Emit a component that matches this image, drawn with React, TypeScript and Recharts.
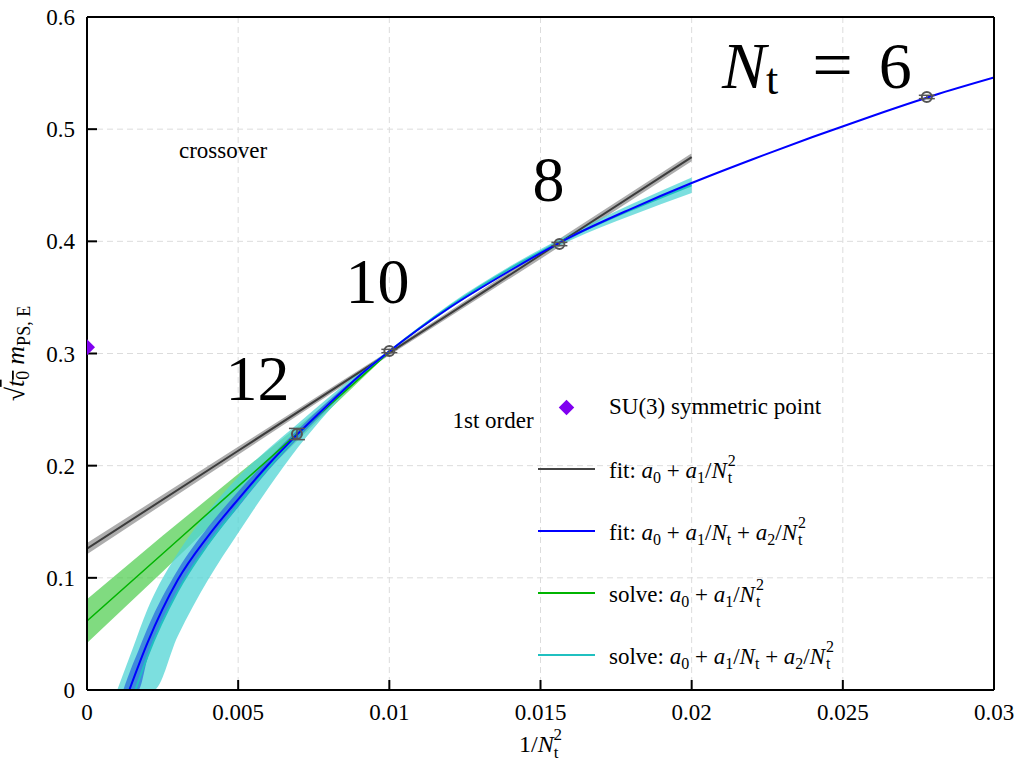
import React from "react";
import {
  ComposedChart,
  Line,
  Area,
  Scatter,
  XAxis,
  YAxis,
  CartesianGrid,
  ErrorBar,
} from "recharts";

const xTicks = [0, 0.005, 0.01, 0.015, 0.02, 0.025, 0.03];
const yTicks = [0, 0.1, 0.2, 0.3, 0.4, 0.5, 0.6];

// lattice data, x = 1/Nt^2 for Nt = 6, 8, 10, 12
const pointX = [0.027778, 0.015625, 0.01, 0.006944];
const pointY = [0.5287, 0.3976, 0.3022, 0.2282];
const pointErr = [0.0015, 0.0015, 0.0015, 0.005];

// SU(3) symmetric point
const su3X = [0];
const su3Y = [0.3055];

// fit: a0 + a1/Nt^2 (grey)
const linFitX = [0, 0.005, 0.01, 0.015, 0.02];
const linFitY = [0.126, 0.2133, 0.3005, 0.3878, 0.475];
const linFitLo = [0.121, 0.2098, 0.2985, 0.3843, 0.4715];
const linFitHi = [0.131, 0.2168, 0.3025, 0.3913, 0.4785];

// solve: a0 + a1/Nt^2 (green)
const linSolveX = [0, 0.0025, 0.005, 0.0075, 0.01];
const linSolveY = [0.0615, 0.1215, 0.1815, 0.2415, 0.3015];
const linSolveLo = [0.042, 0.1055, 0.1705, 0.2365, 0.301];
const linSolveHi = [0.081, 0.1375, 0.1925, 0.2465, 0.302];

// fit: a0 + a1/Nt + a2/Nt^2 (blue)
const quadFitX = [0.0014, 0.002, 0.003, 0.004, 0.005, 0.006, 0.007, 0.008, 0.009, 0.01, 0.012, 0.014, 0.016, 0.018, 0.02, 0.022, 0.024, 0.026, 0.028, 0.03];
const quadFitY = [0, 0.042, 0.098, 0.137, 0.17, 0.201, 0.229, 0.255, 0.28, 0.302, 0.341, 0.374, 0.404, 0.429, 0.452, 0.473, 0.493, 0.512, 0.53, 0.546];
const quadBandX = [0.0012, 0.0015, 0.0017, 0.002, 0.003, 0.004, 0.005, 0.006, 0.007, 0.008, 0.009, 0.01];
const quadBandLo = [0, 0, 0, 0.028, 0.088, 0.129, 0.163, 0.196, 0.225, 0.252, 0.279, 0.302];
const quadBandHi = [0, 0.022, 0.035, 0.055, 0.107, 0.145, 0.177, 0.206, 0.233, 0.258, 0.281, 0.302];

// solve: a0 + a1/Nt + a2/Nt^2 (cyan)
const quadSolveX = [0.0016, 0.002, 0.003, 0.004, 0.005, 0.006, 0.007, 0.008, 0.009, 0.01, 0.012, 0.014, 0.016, 0.018, 0.02];
const quadSolveY = [0, 0.03, 0.088, 0.13, 0.165, 0.198, 0.228, 0.255, 0.28, 0.302, 0.342, 0.376, 0.404, 0.428, 0.45];
const quadSolveBandX = [0.001, 0.0015, 0.002, 0.0022, 0.003, 0.004, 0.005, 0.006, 0.007, 0.008, 0.009, 0.01, 0.012, 0.014, 0.016, 0.018, 0.02];
const quadSolveLo = [0, 0, 0, 0, 0.048, 0.098, 0.14, 0.18, 0.217, 0.249, 0.278, 0.301, 0.34, 0.373, 0.401, 0.423, 0.443];
const quadSolveHi = [0, 0.036, 0.072, 0.084, 0.122, 0.159, 0.19, 0.215, 0.238, 0.261, 0.283, 0.303, 0.344, 0.378, 0.407, 0.433, 0.457];

// text annotations
const annText = ["crossover", "1st order", "12", "10", "8", "Nt=6"];
const annX = [0.0045, 0.01343, 0.00564, 0.00961, 0.015265, 0.021];
const annY = [0.4814, 0.2407, 0.2773, 0.3642, 0.4547, 0.5572];

const FONT = "Liberation Serif, serif";

const zip = (xs: number[], ys: number[]) => xs.map((x, i) => ({ x, y: ys[i] }));
const zipBand = (xs: number[], lo: number[], hi: number[]) =>
  xs.map((x, i) => ({ x, band: [lo[i], hi[i]] }));

const points = pointX.map((x, i) => ({ x, y: pointY[i], err: pointErr[i] }));
const su3 = zip(su3X, su3Y);
const annotations = annText.map((text, i) => ({ x: annX[i], y: annY[i], text }));

function OpenCircle(props: any) {
  const { cx, cy } = props;
  if (cx == null || cy == null) return null;
  return <circle cx={cx} cy={cy} r={5} fill="none" stroke="#555" strokeWidth={2} />;
}

function Diamond(props: any) {
  const { cx, cy } = props;
  if (cx == null || cy == null) return null;
  const s = 8;
  return (
    <polygon
      points={`${cx},${cy - s} ${cx + s},${cy} ${cx},${cy + s} ${cx - s},${cy}`}
      fill="#8000f0"
    />
  );
}

function Annotation(props: any) {
  const { cx, cy, payload } = props;
  if (cx == null || cy == null) return null;
  if (payload.text === "Nt=6") {
    return (
      <text x={cx} y={cy} dominantBaseline="central" fontFamily={FONT} fontSize={66} fill="#000">
        <tspan fontStyle="italic">N</tspan>
        <tspan fontSize={44} dy={14}>t</tspan>
        <tspan dx={34} dy={-14} fontSize={72}>=</tspan>
        <tspan dx={26}>6</tspan>
      </text>
    );
  }
  const big = payload.text.length <= 2;
  return (
    <text
      x={cx}
      y={cy}
      textAnchor="middle"
      dominantBaseline="central"
      fontFamily={FONT}
      fontSize={big ? 64 : 23}
      fill="#000"
    >
      {payload.text}
    </text>
  );
}

function XTick(props: any) {
  const { x, y, payload } = props;
  return (
    <text x={x} y={y} dy="0.71em" textAnchor="middle" fontFamily={FONT} fontSize={23} fill="#000">
      {String(payload.value)}
    </text>
  );
}

function YTick(props: any) {
  const { x, y, payload } = props;
  return (
    <text x={x} y={y} dy="0.355em" textAnchor="end" fontFamily={FONT} fontSize={23} fill="#000">
      {String(payload.value)}
    </text>
  );
}

function YLabel(props: any) {
  const vb = props.viewBox || { x: 27, y: 17, width: 60, height: 673 };
  const x = vb.x - 3;
  const y = vb.y + vb.height / 2;
  return (
    <text
      x={x}
      y={y}
      transform={`rotate(-90 ${x} ${y})`}
      textAnchor="middle"
      fontFamily={FONT}
      fontSize={26}
      fill="#000"
    >
      <tspan>√</tspan>
      <tspan fontStyle="italic" textDecoration="overline">t</tspan>
      <tspan fontSize={18} dy={5} textDecoration="overline">0</tspan>
      <tspan fontStyle="italic" dx={6} dy={-5}>m</tspan>
      <tspan fontSize={18} dy={6}>PS, E</tspan>
    </text>
  );
}

function XLabel(props: any) {
  const vb = props.viewBox || { x: 87, y: 690, width: 907, height: 60 };
  const x = vb.x + vb.width / 2;
  const y = vb.y + 62;
  return (
    <text x={x} y={y} textAnchor="middle" fontFamily={FONT} fontSize={24} fill="#000">
      <tspan>1/</tspan>
      <tspan fontStyle="italic">N</tspan>
      <tspan fontSize={17} dy={6}>t</tspan>
      <tspan fontSize={17} dx={-5} dy={-18}>2</tspan>
    </text>
  );
}

function NtSq() {
  const small: React.CSSProperties = { position: "absolute", left: 0, fontSize: 16, lineHeight: "18px" };
  return (
    <>
      <i>N</i>
      <span style={{ position: "relative", display: "inline-block", width: 11, height: 23, marginLeft: 1 }}>
        <span style={{ ...small, top: -3 }}>2</span>
        <span style={{ ...small, top: 14 }}>t</span>
      </span>
    </>
  );
}

const sub = (s: string) => (
  <span style={{ fontSize: 16, position: "relative", top: 5 }}>{s}</span>
);

const legendRows = [
  { kind: "diamond", color: "#8000f0", label: <>SU(3) symmetric point</> },
  { kind: "line", color: "#444", label: <>fit: <i>a</i>{sub("0")} + <i>a</i>{sub("1")}/<NtSq /></> },
  { kind: "line", color: "#0000ff", label: <>fit: <i>a</i>{sub("0")} + <i>a</i>{sub("1")}/<i>N</i>{sub("t")} + <i>a</i>{sub("2")}/<NtSq /></> },
  { kind: "line", color: "#00b400", label: <>solve: <i>a</i>{sub("0")} + <i>a</i>{sub("1")}/<NtSq /></> },
  { kind: "line", color: "#20c0c0", label: <>solve: <i>a</i>{sub("0")} + <i>a</i>{sub("1")}/<i>N</i>{sub("t")} + <i>a</i>{sub("2")}/<NtSq /></> },
];

function LegendBox() {
  return (
    <div style={{ position: "absolute", left: 538, top: 376, fontFamily: FONT, fontSize: 23, color: "#000" }}>
      {legendRows.map((r, i) => (
        <div key={i} style={{ height: 62, display: "flex", alignItems: "center" }}>
          <div style={{ width: 57, display: "flex", justifyContent: "center", alignItems: "center" }}>
            {r.kind === "line" ? (
              <div style={{ width: 57, height: 2, background: r.color }} />
            ) : (
              <div style={{ width: 11, height: 11, background: r.color, transform: "rotate(45deg)" }} />
            )}
          </div>
          <div style={{ marginLeft: 14, whiteSpace: "nowrap", fontFamily: FONT }}>{r.label}</div>
        </div>
      ))}
    </div>
  );
}

const axisStroke = { stroke: "#000", strokeWidth: 2 };

export default function App() {
  return (
    <div
      style={{
        position: "absolute",
        left: 0,
        top: 0,
        width: 1026,
        height: 764,
        background: "#fff",
        fontFamily: FONT,
      }}
    >
      <ComposedChart width={1026} height={764} margin={{ top: 16, right: 31, bottom: 14, left: 27 }}>
        <CartesianGrid stroke="#dcdcdc" strokeDasharray="6 4" strokeWidth={1} />
        <XAxis
          type="number"
          dataKey="x"
          domain={[0, 0.03]}
          ticks={xTicks}
          allowDataOverflow
          height={60}
          tickSize={-10}
          tickMargin={24}
          tick={<XTick />}
          tickLine={axisStroke}
          axisLine={axisStroke}
          label={<XLabel />}
        />
        <XAxis
          xAxisId="top"
          orientation="top"
          type="number"
          dataKey="x"
          domain={[0, 0.03]}
          ticks={xTicks}
          height={1}
          tickSize={-10}
          tick={false}
          tickLine={axisStroke}
          axisLine={axisStroke}
        />
        <YAxis
          type="number"
          domain={[0, 0.6]}
          ticks={yTicks}
          allowDataOverflow
          width={60}
          tickSize={-10}
          tickMargin={22}
          tick={<YTick />}
          tickLine={axisStroke}
          axisLine={axisStroke}
          label={<YLabel />}
        />
        <YAxis
          yAxisId="right"
          orientation="right"
          type="number"
          domain={[0, 0.6]}
          ticks={yTicks}
          width={1}
          tickSize={-10}
          tick={false}
          tickLine={axisStroke}
          axisLine={axisStroke}
        />

        {/* error bands */}
        <Area data={zipBand(linFitX, linFitLo, linFitHi)} dataKey="band" type="linear" stroke="none" fill="#8a8a8a" fillOpacity={0.7} isAnimationActive={false} />
        <Area data={zipBand(linSolveX, linSolveLo, linSolveHi)} dataKey="band" type="linear" stroke="none" fill="#3cc83c" fillOpacity={0.65} isAnimationActive={false} />
        <Area data={zipBand(quadSolveBandX, quadSolveLo, quadSolveHi)} dataKey="band" type="monotone" stroke="none" fill="#50d4d4" fillOpacity={0.75} isAnimationActive={false} />
        <Area data={zipBand(quadBandX, quadBandLo, quadBandHi)} dataKey="band" type="monotone" stroke="none" fill="#2f74dc" fillOpacity={0.8} isAnimationActive={false} />

        {/* central curves */}
        <Line data={zip(linFitX, linFitY)} dataKey="y" type="linear" stroke="#3c3c3c" strokeWidth={2} dot={false} isAnimationActive={false} />
        <Line data={zip(linSolveX, linSolveY)} dataKey="y" type="linear" stroke="#00b400" strokeWidth={1.5} dot={false} isAnimationActive={false} />
        <Line data={zip(quadSolveX, quadSolveY)} dataKey="y" type="monotone" stroke="#20c0c0" strokeWidth={2} dot={false} isAnimationActive={false} />
        <Line data={zip(quadFitX, quadFitY)} dataKey="y" type="monotone" stroke="#0000ff" strokeWidth={2} dot={false} isAnimationActive={false} />

        <Scatter data={points} dataKey="y" shape={<OpenCircle />} isAnimationActive={false}>
          <ErrorBar dataKey="err" direction="y" width={8} stroke="#555" strokeWidth={1.5} />
        </Scatter>
        <Scatter data={su3} dataKey="y" shape={<Diamond />} isAnimationActive={false} />
        <Scatter data={annotations} dataKey="y" shape={<Annotation />} isAnimationActive={false} />
      </ComposedChart>
      <LegendBox />
    </div>
  );
}
